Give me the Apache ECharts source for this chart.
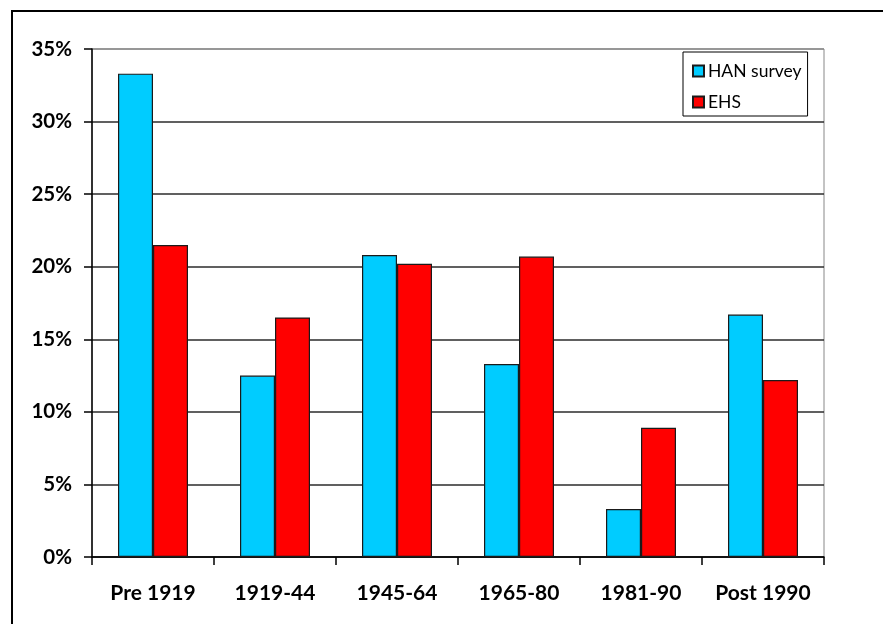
<!DOCTYPE html>
<html>
<head>
<meta charset="utf-8">
<script src="https://cdn.jsdelivr.net/npm/echarts@6/dist/echarts.min.js"></script>
<style>
  html, body { margin: 0; padding: 0; background: #fff; }
  #chart { width: 883px; height: 624px; }
</style>
</head>
<body>
<div id="chart"></div>
<script>
// data (percent)
var periods = ['Pre 1919', '1919-44', '1945-64', '1965-80', '1981-90', 'Post 1990'];
var hanSurvey = [33.3, 12.5, 20.8, 13.3, 3.3, 16.7];
var ehs = [21.5, 16.5, 20.2, 20.7, 8.9, 12.2];

var myChart = echarts.init(document.getElementById('chart'));

var option = {
    backgroundColor: '#fff',
    animation: false,
    textStyle: { fontFamily: 'Lato' },
    // outer frame of the chart, runs off the right / bottom edge
    graphic: [{
        type: 'rect',
        shape: { x: 12, y: 11, width: 900, height: 700 },
        style: { fill: 'none', stroke: '#000', lineWidth: 2 },
        silent: true
    }],
    grid: {
        left: 92, top: 49, right: 59, bottom: 67,
        show: true,
        borderColor: '#888',
        borderWidth: 1
    },
    legend: {
        data: ['HAN survey', 'EHS'],
        orient: 'vertical',
        left: 683,
        top: 52,
        padding: [9, 6, 4, 9],
        itemWidth: 11,
        itemHeight: 11,
        itemGap: 11,
        icon: 'rect',
        backgroundColor: '#fff',
        borderColor: '#000',
        borderWidth: 1,
        borderRadius: 0,
        textStyle: { fontFamily: 'Lato', fontSize: 17.5, color: '#000', lineHeight: 20, padding: [0, 0, 0, -1] }
    },
    xAxis: {
        type: 'category',
        data: periods,
        axisLine: { lineStyle: { color: '#000', width: 1.5 } },
        axisTick: { show: true, alignWithLabel: false, length: 8, lineStyle: { color: '#000', width: 1.5 } },
        axisLabel: { fontFamily: 'Lato', fontWeight: 'bold', fontSize: 21, color: '#000', margin: 26, interval: 0 }
    },
    yAxis: {
        type: 'value',
        min: 0,
        max: 35,
        interval: 5,
        axisLine: { show: true, lineStyle: { color: '#000', width: 1.5 } },
        axisTick: { show: true, inside: false, length: 8, lineStyle: { color: '#000', width: 1.5 } },
        axisLabel: {
            fontFamily: 'Lato', fontWeight: 'bold', fontSize: 20.5, color: '#000', margin: 20,
            formatter: function (v) { return v + '%'; }
        },
        splitLine: {
            lineStyle: {
                color: ['#2b2b2b', '#2b2b2b', '#2b2b2b', '#2b2b2b', '#2b2b2b', '#2b2b2b', '#2b2b2b', '#888'],
                width: 1.5
            }
        }
    },
    series: [{
        name: 'HAN survey',
        type: 'bar',
        data: hanSurvey,
        barWidth: 35,
        barGap: '0%',
        itemStyle: { color: '#00ccff', borderColor: '#1a1a1a', borderWidth: 1.2 }
    }, {
        name: 'EHS',
        type: 'bar',
        data: ehs,
        barWidth: 35,
        barGap: '0%',
        itemStyle: { color: '#ff0000', borderColor: '#1a1a1a', borderWidth: 1.2 }
    }]
};

myChart.setOption(option);
</script>
</body>
</html>
